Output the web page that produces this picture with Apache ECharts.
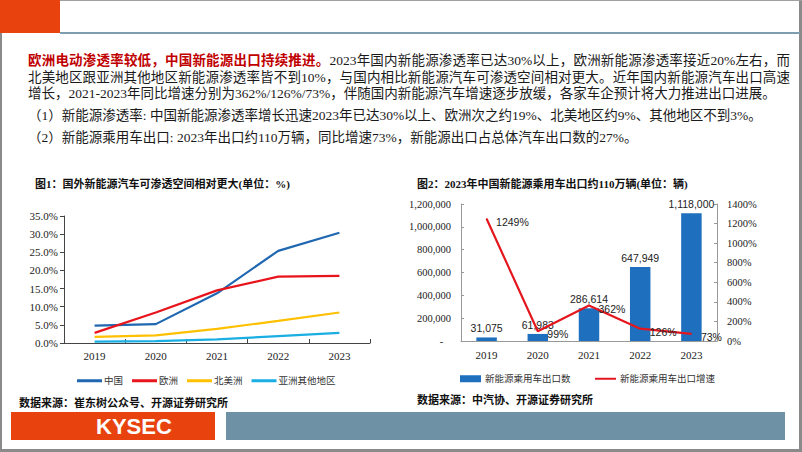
<!DOCTYPE html>
<html>
<head>
<meta charset="utf-8">
<script src="https://cdn.jsdelivr.net/npm/echarts@6/dist/echarts.min.js"></script>
<style>
  html, body { margin: 0; padding: 0; background: #fff; }
  #page { position: relative; width: 802px; height: 452px; overflow: hidden; background: #fff; }
  #chart { position: absolute; left: 0; top: 0; width: 802px; height: 452px; }
  .ln { position: absolute; left: 28px; width: 762px; font-family: 'Liberation Serif', 'Noto Sans CJK SC', serif; font-size: 13.5px; color: #1a1a1a; white-space: nowrap; line-height: 17px; }
  .just { text-align: justify; text-align-last: justify; white-space: normal; }
  .red { color: #C00000; font-weight: bold; }
</style>
</head>
<body>
<div id="page">
  <div id="chart"></div>
  <div class="ln just" style="top:52px;"><span class="red">欧洲电动渗透率较低，中国新能源出口持续推进。</span>2023年国内新能源渗透率已达30%以上，欧洲新能源渗透率接近20%左右，而</div>
  <div class="ln just" style="top:68.5px;">北美地区跟亚洲其他地区新能源渗透率皆不到10%，与国内相比新能源汽车可渗透空间相对更大。近年国内新能源汽车出口高速</div>
  <div class="ln" style="top:85px;">增长，2021-2023年同比增速分别为362%/126%/73%，伴随国内新能源汽车增速逐步放缓，各家车企预计将大力推进出口进展。</div>
  <div class="ln" style="top:107px;">（1）新能源渗透率: 中国新能源渗透率增长迅速2023年已达30%以上、欧洲次之约19%、北美地区约9%、其他地区不到3%。</div>
  <div class="ln" style="top:129px;">（2）新能源乘用车出口: 2023年出口约110万辆，同比增速73%，新能源出口占总体汽车出口数的27%。</div>
</div>
<script>
// ---- data ----
const years = ['2019', '2020', '2021', '2022', '2023'];
const penChina = [4.8, 5.2, 13.7, 25.4, 30.4];
const penEurope = [2.8, 8.4, 14.5, 18.3, 18.5];
const penNorthAmerica = [1.7, 2.1, 3.9, 6.1, 8.4];
const penAsiaOther = [0.4, 0.5, 1.0, 1.9, 2.8];
const exportVolume = [31075, 61983, 286614, 647949, 1118000];
const exportGrowth = [1249, 99, 362, 126, 73];
const penTicks = [0, 5, 10, 15, 20, 25, 30, 35];

const serif = "'Liberation Serif', 'Noto Sans CJK SC', serif";
const sans = "'Liberation Sans', 'Noto Sans CJK SC', sans-serif";

const chart = echarts.init(document.getElementById('chart'), null, { renderer: 'svg', width: 802, height: 452 });

const option = {
  animation: false,
  backgroundColor: 'transparent',
  graphic: [
    // page frame
    { type: 'rect', shape: { x: 0, y: 0, width: 2, height: 452 }, style: { fill: '#8a8a8a' }, silent: true },
    { type: 'rect', shape: { x: 799, y: 0, width: 3, height: 452 }, style: { fill: '#8a8a8a' }, silent: true },
    { type: 'rect', shape: { x: 0, y: 449, width: 802, height: 3 }, style: { fill: '#8a8a8a' }, silent: true },
    { type: 'rect', shape: { x: 0, y: 0, width: 802, height: 1 }, style: { fill: '#a0a0a0' }, silent: true },
    // header
    { type: 'rect', shape: { x: 0, y: 0, width: 60, height: 33 }, style: { fill: '#E8430E' }, silent: true },
    { type: 'rect', shape: { x: 60, y: 32, width: 740, height: 2 }, style: { fill: '#7E9DAE' }, silent: true },
    // footer
    { type: 'rect', shape: { x: 11, y: 412, width: 204, height: 28 }, style: { fill: '#E8430E' }, silent: true },
    { type: 'text', left: 96, top: 415, style: { text: 'KYSEC', fill: '#ffffff', font: "bold 22px 'Liberation Sans', Arial, sans-serif" }, silent: true },
    { type: 'rect', shape: { x: 226, y: 412, width: 559, height: 28 }, style: { fill: '#6E91A6' }, silent: true },
    // sources
    { type: 'text', left: 19, top: 396, style: { text: '数据来源：崔东树公众号、开源证券研究所', fill: '#111', font: "bold 11px 'Noto Sans CJK SC', sans-serif" } },
    { type: 'text', left: 417, top: 393, style: { text: '数据来源：中汽协、开源证券研究所', fill: '#111', font: "bold 11px 'Noto Sans CJK SC', sans-serif" } }
  ],
  title: [
    { text: '图1：国外新能源汽车可渗透空间相对更大(单位：%)', left: 35, top: 178, padding: 0,
      textStyle: { fontSize: 11, fontWeight: 'bold', color: '#111', fontFamily: serif } },
    { text: '图2：2023年中国新能源乘用车出口约110万辆(单位：辆)', left: 417, top: 178, padding: 0,
      textStyle: { fontSize: 11, fontWeight: 'bold', color: '#111', fontFamily: serif } }
  ],
  legend: [
    { data: ['中国', '欧洲', '北美洲', '亚洲其他地区'], left: 72, top: 371, icon: 'rect', itemWidth: 25, itemHeight: 3, itemGap: 9,
      textStyle: { fontSize: 9.5, color: '#333', fontFamily: sans, padding: [0, 0, 0, -3] } },
    { data: ['新能源乘用车出口数'], left: 455, top: 369, icon: 'rect', itemWidth: 21, itemHeight: 7,
      textStyle: { fontSize: 9.5, color: '#333', fontFamily: sans, padding: [0, 0, 0, -1] } },
    { data: ['新能源乘用车出口增速'], left: 590, top: 369, icon: 'rect', itemWidth: 21, itemHeight: 2,
      textStyle: { fontSize: 9.5, color: '#333', fontFamily: sans, padding: [0, 0, 0, -1] } }
  ],
  grid: [
    { left: 64, right: 432, top: 216, bottom: 109 },
    { left: 461, right: 85, top: 204, bottom: 111 }
  ],
  xAxis: [
    { type: 'category', gridIndex: 0, data: years, boundaryGap: true,
      axisLine: { lineStyle: { color: '#444', width: 1 } },
      axisTick: { show: true, inside: true, length: 4, lineStyle: { color: '#444' } },
      axisLabel: { fontSize: 11, color: '#222', fontFamily: serif, margin: 7 } },
    { type: 'category', gridIndex: 1, data: years, boundaryGap: true,
      axisLine: { lineStyle: { color: '#999', width: 1 } },
      axisTick: { show: false },
      axisLabel: { fontSize: 11, color: '#222', fontFamily: serif, margin: 8 } }
  ],
  yAxis: [
    { type: 'value', gridIndex: 0, min: penTicks[0], max: penTicks[penTicks.length - 1], interval: 5,
      axisLine: { show: true, lineStyle: { color: '#444', width: 1 } },
      axisTick: { show: true, length: 4, lineStyle: { color: '#444' } },
      splitLine: { show: false },
      axisLabel: { fontSize: 11, color: '#222', fontFamily: serif, margin: 6, formatter: v => v.toFixed(1) + '%' } },
    { type: 'value', gridIndex: 1, min: 0, max: 1200000, interval: 200000,
      axisLine: { show: true, lineStyle: { color: '#999', width: 1 } },
      axisTick: { show: true, length: 3, inside: true, lineStyle: { color: '#999' } },
      splitLine: { show: false },
      axisLabel: { fontSize: 10.5, color: '#222', fontFamily: serif, margin: 10,
        formatter: v => v === 0 ? '-   ' : v.toLocaleString('en-US') } },
    { type: 'value', gridIndex: 1, position: 'right', min: 0, max: 1400, interval: 200,
      axisLine: { show: true, lineStyle: { color: '#999', width: 1 } },
      axisTick: { show: true, length: 3, inside: true, lineStyle: { color: '#999' } },
      splitLine: { show: false },
      axisLabel: { fontSize: 10.5, color: '#222', fontFamily: serif, margin: 10, formatter: v => v + '%' } }
  ],
  series: [
    { name: '中国', type: 'line', xAxisIndex: 0, yAxisIndex: 0, data: penChina, symbol: 'none',
      lineStyle: { color: '#1F67B1', width: 2.2 }, itemStyle: { color: '#1F67B1' } },
    { name: '欧洲', type: 'line', xAxisIndex: 0, yAxisIndex: 0, data: penEurope, symbol: 'none',
      lineStyle: { color: '#E8141B', width: 2.2 }, itemStyle: { color: '#E8141B' } },
    { name: '北美洲', type: 'line', xAxisIndex: 0, yAxisIndex: 0, data: penNorthAmerica, symbol: 'none',
      lineStyle: { color: '#FFC000', width: 2.2 }, itemStyle: { color: '#FFC000' } },
    { name: '亚洲其他地区', type: 'line', xAxisIndex: 0, yAxisIndex: 0, data: penAsiaOther, symbol: 'none',
      lineStyle: { color: '#1AAEE3', width: 2.2 }, itemStyle: { color: '#1AAEE3' } },
    { name: '新能源乘用车出口数', type: 'bar', xAxisIndex: 1, yAxisIndex: 1, data: exportVolume, barWidth: '40%',
      itemStyle: { color: '#1F6FBF' },
      label: { show: true, position: 'top', distance: 4, fontSize: 10.5, color: '#222', fontFamily: sans,
        formatter: p => p.value.toLocaleString('en-US') } },
    { name: '新能源乘用车出口增速', type: 'line', xAxisIndex: 1, yAxisIndex: 2, data: exportGrowth,
      symbol: 'circle', symbolSize: 1, showSymbol: true,
      lineStyle: { color: '#E4161E', width: 2.2 }, itemStyle: { color: '#E4161E' },
      label: { show: true, position: 'right', distance: 8, offset: [1, 3], fontSize: 10.5, color: '#222', fontFamily: sans,
        formatter: p => p.value + '%' } }
  ]
};
chart.setOption(option);
</script>
</body>
</html>
